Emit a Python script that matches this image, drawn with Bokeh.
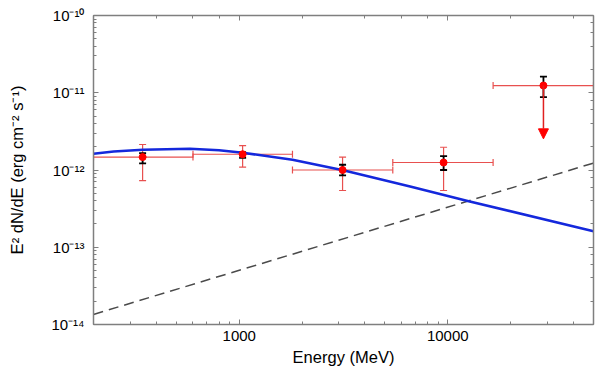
from bokeh.plotting import figure
from bokeh.models import (ColumnDataSource, Whisker, TeeHead, Arrow, NormalHead,
                          LogAxis, CustomJSTickFormatter, NumeralTickFormatter, Range1d)
from bokeh.embed import file_html
from bokeh.resources import INLINE

# ---- data ----
energy = [344, 1038, 3130, 9550, 28770]          # MeV (bin centres)
e_lo = [200, 600, 1800, 5450, 16500]
e_hi = [600, 1800, 5450, 16500, 50000]
flux = [1.47e-12, 1.60e-12, 1.00e-12, 1.25e-12, 1.24e-11]   # erg cm^-2 s^-1
red_lo = [7.3e-13, 1.09e-12, 5.43e-13, 5.43e-13]
red_hi = [2.14e-12, 2.07e-12, 1.47e-12, 1.97e-12]
black_lo = [1.22e-12, 1.44e-12, 8.5e-13, 1.00e-12, 8.77e-12]
black_hi = [1.65e-12, 1.70e-12, 1.17e-12, 1.51e-12, 1.62e-11]
ul_tip = 2.53e-12

model_E = [200, 250, 345, 580, 800, 1040, 1800, 3150, 6600, 12600, 50000]
model_F = [1.62e-12, 1.74e-12, 1.83e-12, 1.88e-12, 1.80e-12, 1.67e-12, 1.36e-12,
           9.9e-13, 6.1e-13, 3.95e-13, 1.61e-13]

bg_E = [200, 50000]
bg_F = [1.35e-14, 1.23e-12]

FONT = "Liberation Sans"
AX = "#7f7f7f"
RED_BAR = "#e8504f"

p = figure(width=600, height=373, x_axis_type="log", y_axis_type="log",
           x_range=Range1d(200, 50000), y_range=Range1d(1e-14, 1e-10),
           output_backend="svg", toolbar_location=None,
           min_border_left=93, min_border_top=15, min_border_right=7, min_border_bottom=49)
p.xgrid.visible = False
p.ygrid.visible = False
p.outline_line_color = None
p.background_fill_color = "white"

def style_axis(ax, labels=True):
    ax.axis_line_color = AX
    ax.axis_line_width = 1.5
    ax.major_tick_line_color = AX
    ax.minor_tick_line_color = AX
    ax.major_tick_in = 5
    ax.major_tick_out = 0
    ax.minor_tick_in = 3
    ax.minor_tick_out = 0
    ax.major_label_text_font = FONT
    ax.major_label_text_color = "black"
    ax.axis_label_text_font = FONT
    ax.axis_label_text_font_style = "normal"
    ax.axis_label_text_color = "black"
    if labels:
        ax.major_label_text_font_size = "15px"
        ax.axis_label_text_font_size = "16.5px"
    else:
        ax.major_label_text_font_size = "1px"
        ax.major_label_text_alpha = 0
        ax.major_label_standoff = 0

SUP = {"-": "\u207b", "0": "\u2070", "1": "\u00b9", "2": "\u00b2", "3": "\u00b3",
       "4": "\u2074", "5": "\u2075", "6": "\u2076", "7": "\u2077", "8": "\u2078", "9": "\u2079"}
sup_js = """
const e = Math.round(Math.log10(tick));
const s = SUPMAP;
let out = '10';
for (const c of String(e)) { out += s[c]; }
return out;
""".replace("SUPMAP", "{" + ",".join("'%s':'%s'" % (k, v) for k, v in SUP.items()) + "}")

xa = p.xaxis[0]
style_axis(xa)
xa.formatter = NumeralTickFormatter(format="0")
xa.axis_label = "Energy (MeV)"
xa.major_label_standoff = 6
xa.axis_label_standoff = 4

ya = p.yaxis[0]
style_axis(ya)
ya.formatter = CustomJSTickFormatter(code=sup_js)
ya.axis_label = "E\u00b2 dN/dE (erg cm\u207b\u00b2 s\u207b\u00b9)"
ya.major_label_standoff = 9
ya.axis_label_standoff = 22

top = LogAxis()
style_axis(top, labels=False)
p.add_layout(top, "above")
right = LogAxis()
style_axis(right, labels=False)
p.add_layout(right, "right")

# background power law (dashed) and model curve
p.line(bg_E, bg_F, line_color="#4a4a4a", line_width=1.5, line_dash="10 6")
p.line(model_E, model_F, line_color="#1428dc", line_width=2.5)

# red error bars (energy bins and flux)
src_x = ColumnDataSource(dict(y=flux, lo=e_lo, hi=e_hi))
p.add_layout(Whisker(source=src_x, base="y", lower="lo", upper="hi", dimension="width",
                     line_color=RED_BAR, line_width=1.2,
                     upper_head=TeeHead(size=7, line_color=RED_BAR, line_width=1.2),
                     lower_head=TeeHead(size=7, line_color=RED_BAR, line_width=1.2)))
src_ry = ColumnDataSource(dict(x=energy[:4], lo=red_lo, hi=red_hi))
p.add_layout(Whisker(source=src_ry, base="x", lower="lo", upper="hi", dimension="height",
                     line_color=RED_BAR, line_width=1.2,
                     upper_head=TeeHead(size=7, line_color=RED_BAR, line_width=1.2),
                     lower_head=TeeHead(size=7, line_color=RED_BAR, line_width=1.2)))

# upper-limit arrow for the last bin
p.add_layout(Arrow(x_start=energy[4], y_start=flux[4], x_end=energy[4], y_end=ul_tip,
                   line_color="#e02020", line_width=1.5,
                   end=NormalHead(size=10, fill_color="red", line_color="red")))

# black (statistical) error bars
src_by = ColumnDataSource(dict(x=energy, lo=black_lo, hi=black_hi))
p.add_layout(Whisker(source=src_by, base="x", lower="lo", upper="hi", dimension="height",
                     line_color="black", line_width=1.8,
                     upper_head=TeeHead(size=7, line_color="black", line_width=1.8),
                     lower_head=TeeHead(size=7, line_color="black", line_width=1.8)))

p.scatter(energy, flux, size=7, fill_color="red", line_color="red")

open("out.html", "w").write(file_html(p, INLINE))
